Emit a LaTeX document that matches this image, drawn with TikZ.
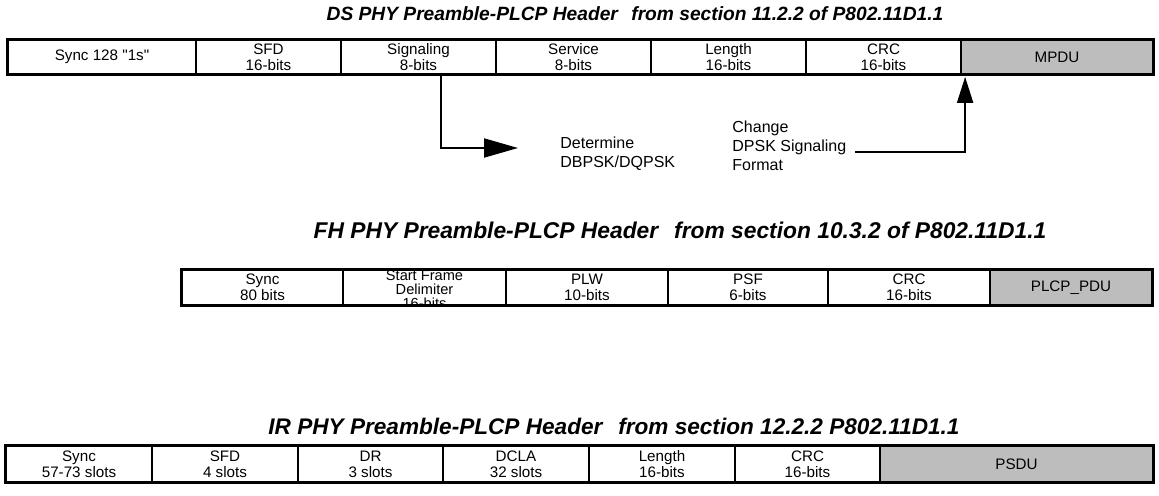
\documentclass[tikz,border=0pt]{standalone}
\usepackage{fontspec}
\setmainfont{Liberation Sans}
\usetikzlibrary{arrows.meta}
\begin{document}
\begin{tikzpicture}[x=0.5pt,y=-0.5pt,
  cellfont/.style={font=\fontsize{7.6}{7.9}\selectfont},
  cell/.style={draw, line width=0.9pt, inner sep=0pt, align=center, cellfont},
  gcell/.style={cell, fill=black!26},
  outer/.style={draw, line width=1.3pt},
  ttl/.style={inner sep=0pt},
  note/.style={align=left, anchor=north west, inner sep=0pt, font=\fontsize{8}{9.5}\selectfont},
  conn/.style={line width=1pt}
]
\useasboundingbox (0,0) rectangle (1159,496);

% ---------- DS ----------
\node[ttl, font=\fontsize{9.6}{12}\selectfont\bfseries\itshape] (dstitle) at (635,14) {DS PHY Preamble-PLCP Header\hspace{0.7em}from section 11.2.2 of P802.11D1.1};
\node[cell, minimum width=94pt,   minimum height=17pt] (dsync) at (102,57)   {Sync 128 \textquotedbl 1s\textquotedbl};
\node[cell, minimum width=72.5pt, minimum height=17pt] (dsfd)  at (268.5,57) {SFD\\16-bits};
\node[cell, minimum width=77.5pt, minimum height=17pt] (dsig)  at (418.5,57) {Signaling\\8-bits};
\node[cell, minimum width=77.5pt, minimum height=17pt] (dsrv)  at (573.5,57) {Service\\8-bits};
\node[cell, minimum width=77.5pt, minimum height=17pt] (dlen)  at (728.5,57) {Length\\16-bits};
\node[cell, minimum width=77.5pt, minimum height=17pt] (dcrc)  at (883.5,57) {CRC\\16-bits};
\node[gcell, minimum width=96pt,  minimum height=17pt] (dmpdu) at (1057,57)  {MPDU};
\draw[outer] (dsync.north west) rectangle (dmpdu.south east);

\coordinate (detTip) at (518,148);
\draw[conn, -{Triangle[length=17pt,width=9.5pt]}] ([xshift=11pt]dsig.south) |- (detTip);
\node[note] (det) at (560,137) {Determine\\DBPSK/DQPSK};
\node[note] (chg) at (732,121) {Change\\DPSK Signaling\\Format};
\coordinate (chgStart) at (855,152);
\draw[conn, -{Triangle[length=13pt,width=8pt]}] (chgStart) -| ([xshift=2.5pt,yshift=-1pt]dmpdu.south west);

% ---------- FH ----------
\node[ttl, font=\fontsize{11.4}{13}\selectfont\bfseries\itshape] (fhtitle) at (680,230) {FH PHY Preamble-PLCP Header\hspace{0.7em}from section 10.3.2 of P802.11D1.1};
\node[cell, minimum width=80.5pt, minimum height=17.5pt] (fsync) at (262.5,287.5) {Sync\\80 bits};
\begin{scope}
  \clip (343,270) rectangle (506,305);
  \node[align=center, inner sep=0pt, font=\fontsize{7.3}{7}\selectfont] (fsfdtxt) at (424.5,289.5) {Start Frame\\Delimiter\\16-bits};
\end{scope}
\node[cell, minimum width=81.5pt, minimum height=17.5pt] (fsfd) at (424.5,287.5) {};
\node[cell, minimum width=81pt, minimum height=17.5pt] (fplw) at (587,287.5) {PLW\\10-bits};
\node[cell, minimum width=80pt, minimum height=17.5pt] (fpsf) at (748,287.5) {PSF\\6-bits};
\node[cell, minimum width=81pt, minimum height=17.5pt] (fcrc) at (909,287.5) {CRC\\16-bits};
\node[gcell, minimum width=81pt, minimum height=17.5pt] (fpdu) at (1071,287.5) {PLCP\_PDU};
\draw[outer] (fsync.north west) rectangle (fpdu.south east);

% ---------- IR ----------
\node[ttl, font=\fontsize{11.3}{13}\selectfont\bfseries\itshape] (irtitle) at (614,426) {IR PHY Preamble-PLCP Header\hspace{0.7em}from section 12.2.2 P802.11D1.1};
\node[cell, minimum width=73pt,   minimum height=18pt] (isync) at (79,464)    {Sync\\57-73 slots};
\node[cell, minimum width=73pt,   minimum height=18pt] (isfd)  at (225,464)   {SFD\\4 slots};
\node[cell, minimum width=72.5pt, minimum height=18pt] (idr)   at (370.5,464) {DR\\3 slots};
\node[cell, minimum width=73pt,   minimum height=18pt] (idcla) at (516,464)   {DCLA\\32 slots};
\node[cell, minimum width=73pt,   minimum height=18pt] (ilen)  at (662,464)   {Length\\16-bits};
\node[cell, minimum width=72.5pt, minimum height=18pt] (icrc)  at (807.5,464) {CRC\\16-bits};
\node[gcell, minimum width=136.5pt, minimum height=18pt] (ipsdu) at (1016.5,464) {PSDU};
\draw[outer] (isync.north west) rectangle (ipsdu.south east);
\end{tikzpicture}
\end{document}
